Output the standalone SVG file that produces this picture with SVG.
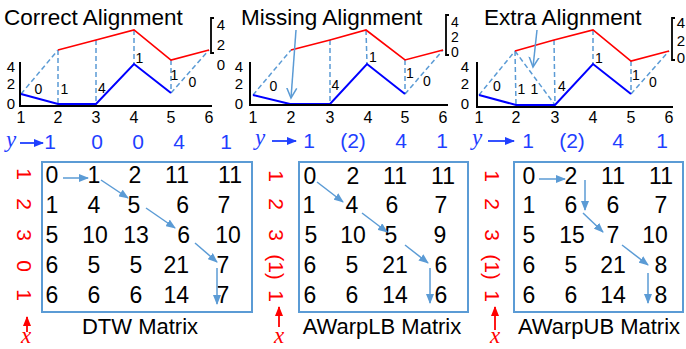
<svg xmlns="http://www.w3.org/2000/svg" width="686" height="349" viewBox="0 0 686 349">
<style>
text{font-family:"Liberation Sans",Arial,sans-serif;fill:#000}
.title{font-size:22.5px}
.tick{font-size:16px;text-anchor:middle}
.ax{font-size:15px;text-anchor:middle}
.axs{font-size:14px;text-anchor:middle}
.d{font-size:14px;text-anchor:middle}
.m{font-size:23px;text-anchor:middle}
.me{font-size:23px;text-anchor:end}
.hdr{font-size:21px;fill:#1F3FFF;text-anchor:middle}
.rl{font-size:21px;fill:#FF0000;text-anchor:middle}
.var{font-family:"Liberation Serif","Times New Roman",serif;font-style:italic;font-size:23px;text-anchor:middle}
.cap{font-size:22px;text-anchor:middle}
.blue{stroke:#0000FF;stroke-width:2;fill:none}
.red{stroke:#FF0000;stroke-width:1.6;fill:none}
.dash{stroke:#5B9BD5;stroke-width:1.5;stroke-dasharray:5 3;fill:none}
.axis{stroke:#000;stroke-width:2;fill:none}
.box{stroke:#5B9BD5;stroke-width:2;fill:none}
.arr{stroke:#5B9BD5;stroke-width:1.5;fill:none;marker-end:url(#ah)}
.varr{stroke:#5B9BD5;stroke-width:1.5;fill:none;marker-end:url(#vh)}
.yarr{stroke:#1F3FFF;stroke-width:1.8;marker-end:url(#ahb)}
.xarr{stroke:#FF0000;stroke-width:1.8;marker-end:url(#ahr)}
</style>
<defs>
<marker id="ah" markerUnits="userSpaceOnUse" markerWidth="10" markerHeight="8" refX="9" refY="4" orient="auto"><path d="M0,0 L10,4 L0,8 Z" fill="#5B9BD5"/></marker>
<marker id="vh" markerUnits="userSpaceOnUse" markerWidth="12" markerHeight="12" refX="10" refY="6" orient="auto"><path d="M0,1 L10,6 L0,11" fill="none" stroke="#5B9BD5" stroke-width="1.5"/></marker>
<marker id="ahb" markerUnits="userSpaceOnUse" markerWidth="10" markerHeight="8" refX="9" refY="4" orient="auto"><path d="M0,0 L10,4 L0,8 Z" fill="#1F3FFF"/></marker>
<marker id="ahr" markerUnits="userSpaceOnUse" markerWidth="10" markerHeight="8" refX="9" refY="4" orient="auto"><path d="M0,0 L10,4 L0,8 Z" fill="#FF0000"/></marker>
</defs>

<!-- Panel 1 chart -->
<g id="chart-correct">
<text class="title" x="4" y="25">Correct Alignment</text>
<path class="dash" d="M21,94 L58,50 M58,50 L58,104 M96,40 L96,104 M134,30 L134,64 M171,60 L171,93 M171,93 L209,50"/>
<polyline class="blue" points="21,94 58,104 96,104 134,64 171,93"/>
<polyline class="red" points="58,50 96,40 134,30 171,60 209,50"/>
<path class="axis" d="M20,62 L20,106 L212,106"/>
<path d="M214,18 L211,18 L211,53 L214,53" stroke="#000" stroke-width="1.8" fill="none"/>
<text class="ax" x="11" y="72">4</text><text class="ax" x="11" y="89">2</text><text class="ax" x="11" y="109">0</text>
<text class="ax" x="221" y="30">4</text><text class="ax" x="221" y="50">2</text><text class="ax" x="221" y="70">0</text>
<text class="tick" x="21" y="123">1</text><text class="tick" x="58" y="123">2</text><text class="tick" x="96" y="123">3</text><text class="tick" x="134" y="123">4</text><text class="tick" x="171" y="123">5</text><text class="tick" x="209" y="123">6</text>
<text class="d" x="38.5" y="94">0</text><text class="d" x="64.5" y="94">1</text><text class="d" x="102" y="93">4</text><text class="d" x="139.5" y="63">1</text><text class="d" x="174.5" y="80">1</text><text class="d" x="192.5" y="87">0</text>
</g>

<!-- Panel 2 chart -->
<g id="chart-missing">
<text class="title" x="241" y="25">Missing Alignment</text>
<path class="dash" d="M253,95 L291,50 M330,40 L330,104 M366,30 L367,64 M405,60 L405,94 M405,94 L443,50"/>
<polyline class="blue" points="253,95 290,104 330,104 367,64 405,94"/>
<polyline class="red" points="291,50 330,40 366,30 405,60 443,50"/>
<path class="axis" d="M250,62 L250,105 L448,105"/>
<path d="M449,15 L446,15 L446,55 L449,55" stroke="#000" stroke-width="1.8" fill="none"/>
<text class="ax" x="239" y="72">4</text><text class="ax" x="239" y="89">2</text><text class="ax" x="239" y="109">0</text>
<text class="axs" x="455" y="27">4</text><text class="axs" x="455" y="42">2</text><text class="axs" x="455" y="57">0</text>
<text class="tick" x="253" y="123">1</text><text class="tick" x="291" y="123">2</text><text class="tick" x="330" y="123">3</text><text class="tick" x="368" y="123">4</text><text class="tick" x="405" y="123">5</text><text class="tick" x="443" y="123">6</text>
<text class="d" x="273.5" y="91">0</text><text class="d" x="335.5" y="90">4</text><text class="d" x="373" y="62">1</text><text class="d" x="410" y="78">1</text><text class="d" x="427" y="86">0</text>
<line class="varr" x1="296" y1="30" x2="291" y2="98"/>
</g>

<!-- Panel 3 chart -->
<g id="chart-extra">
<text class="title" x="484" y="25">Extra Alignment</text>
<path class="dash" d="M479,95 L515,51 M515,51 L516,105 M515,51 L555,105 M554,40 L555,105 M593,30 L593,64 M631,61 L631,94 M631,94 L669,51"/>
<polyline class="blue" points="479,95 516,105 555,105 593,64 631,94"/>
<polyline class="red" points="515,51 554,40 593,30 631,61 669,51"/>
<path class="axis" d="M477,62 L477,107 L673,107"/>
<path d="M675,18 L672,18 L672,60 L675,60" stroke="#000" stroke-width="1.8" fill="none"/>
<text class="ax" x="465" y="72">4</text><text class="ax" x="465" y="89">2</text><text class="ax" x="465" y="109">0</text>
<text class="ax" x="681" y="28">4</text><text class="ax" x="681" y="46">2</text><text class="ax" x="681" y="63">0</text>
<text class="tick" x="479" y="123">1</text><text class="tick" x="516" y="123">2</text><text class="tick" x="555" y="123">3</text><text class="tick" x="593" y="123">4</text><text class="tick" x="631" y="123">5</text><text class="tick" x="669" y="123">6</text>
<text class="d" x="497" y="91">0</text><text class="d" x="521.5" y="94">1</text><text class="d" x="534.5" y="94">1</text><text class="d" x="562" y="91">4</text><text class="d" x="599" y="63">1</text><text class="d" x="636" y="80">1</text><text class="d" x="653" y="87">0</text>
<line class="varr" x1="537" y1="30" x2="533" y2="67"/>
</g>

<!-- Matrix 1 -->
<g id="matrix-dtw">
<text class="var" x="11" y="147" style="fill:#1F3FFF">y</text>
<line class="yarr" x1="20" y1="143" x2="43" y2="143"/>
<text class="hdr" x="50" y="149">1</text><text class="hdr" x="97" y="149">0</text><text class="hdr" x="138" y="149">0</text><text class="hdr" x="179" y="149">4</text><text class="hdr" x="226" y="149">1</text>
<rect class="box" x="42" y="162" width="210" height="150"/>
<text class="rl" transform="translate(25,174) rotate(90)" dy="0.36em">1</text>
<text class="rl" transform="translate(25,204) rotate(90)" dy="0.36em">2</text>
<text class="rl" transform="translate(25,235) rotate(90)" dy="0.36em">3</text>
<text class="rl" transform="translate(25,266) rotate(90)" dy="0.36em">0</text>
<text class="rl" transform="translate(25,295) rotate(90)" dy="0.36em">1</text>
<line class="xarr" x1="27" y1="332" x2="27" y2="317"/>
<text class="var" x="26" y="343" style="fill:#FF0000">x</text>
<text class="m" x="52" y="183">0</text><text class="m" x="94" y="183">1</text><text class="m" x="135" y="183">2</text><text class="me" x="189" y="183">11</text><text class="m" x="230" y="183">11</text>
<text class="m" x="52" y="213">1</text><text class="m" x="94" y="213">4</text><text class="m" x="134" y="213">5</text><text class="me" x="189" y="213">6</text><text class="m" x="224" y="213">7</text>
<text class="m" x="52" y="243">5</text><text class="m" x="95" y="243">10</text><text class="m" x="136" y="243">13</text><text class="me" x="190" y="243">6</text><text class="m" x="228" y="243">10</text>
<text class="m" x="52" y="273">6</text><text class="m" x="94" y="273">5</text><text class="m" x="136" y="273">5</text><text class="me" x="189" y="273">21</text><text class="m" x="223" y="273">7</text>
<text class="m" x="52" y="303">6</text><text class="m" x="94" y="303">6</text><text class="m" x="136" y="303">6</text><text class="me" x="189" y="303">14</text><text class="m" x="223" y="303">7</text>
<text class="cap" x="140" y="334">DTW Matrix</text>
</g>

<!-- Matrix 2 -->
<g id="matrix-awarplb">
<text class="var" x="260" y="145" style="fill:#1F3FFF">y</text>
<line class="yarr" x1="272" y1="141" x2="296" y2="141"/>
<text class="hdr" x="309" y="148">1</text><text class="hdr" x="353" y="148">(2)</text><text class="hdr" x="401" y="148">4</text><text class="hdr" x="442" y="148">1</text>
<rect class="box" x="299" y="162" width="169" height="150"/>
<text class="rl" transform="translate(277,176) rotate(90)" dy="0.36em">1</text>
<text class="rl" transform="translate(277,204) rotate(90)" dy="0.36em">2</text>
<text class="rl" transform="translate(277,235) rotate(90)" dy="0.36em">3</text>
<text class="rl" transform="translate(277,267) rotate(90)" dy="0.36em">(1)</text>
<text class="rl" transform="translate(277,296) rotate(90)" dy="0.36em">1</text>
<line class="xarr" x1="279" y1="327" x2="279" y2="307"/>
<text class="var" x="279" y="343" style="fill:#FF0000">x</text>
<text class="m" x="310" y="184">0</text><text class="m" x="353" y="184">2</text><text class="m" x="395" y="184">11</text><text class="m" x="443" y="184">11</text>
<text class="m" x="309" y="213">1</text><text class="m" x="352" y="213">4</text><text class="m" x="392" y="213">6</text><text class="m" x="441" y="213">7</text>
<text class="m" x="311" y="243">5</text><text class="m" x="353" y="243">10</text><text class="m" x="391" y="243">5</text><text class="m" x="440" y="243">9</text>
<text class="m" x="310" y="273">6</text><text class="m" x="352" y="273">5</text><text class="m" x="395" y="273">21</text><text class="m" x="441" y="273">6</text>
<text class="m" x="310" y="303">6</text><text class="m" x="352" y="303">6</text><text class="m" x="395" y="303">14</text><text class="m" x="441" y="303">6</text>
<text class="cap" x="382" y="334">AWarpLB Matrix</text>
</g>

<!-- Matrix 3 -->
<g id="matrix-awarpub">
<text class="var" x="477" y="145" style="fill:#1F3FFF">y</text>
<line class="yarr" x1="488" y1="141" x2="514" y2="141"/>
<text class="hdr" x="528" y="148">1</text><text class="hdr" x="572" y="148">(2)</text><text class="hdr" x="618" y="148">4</text><text class="hdr" x="662" y="148">1</text>
<rect class="box" x="514" y="162" width="169" height="150"/>
<text class="rl" transform="translate(493,176) rotate(90)" dy="0.36em">1</text>
<text class="rl" transform="translate(493,204) rotate(90)" dy="0.36em">2</text>
<text class="rl" transform="translate(493,235) rotate(90)" dy="0.36em">3</text>
<text class="rl" transform="translate(493,267) rotate(90)" dy="0.36em">(1)</text>
<text class="rl" transform="translate(493,296) rotate(90)" dy="0.36em">1</text>
<line class="xarr" x1="495" y1="330" x2="495" y2="307"/>
<text class="var" x="495" y="343" style="fill:#FF0000">x</text>
<text class="m" x="529" y="184">0</text><text class="m" x="571" y="184">2</text><text class="m" x="613" y="184">11</text><text class="m" x="661" y="184">11</text>
<text class="m" x="529" y="213">1</text><text class="m" x="571" y="213">6</text><text class="m" x="613" y="213">6</text><text class="m" x="661" y="213">7</text>
<text class="m" x="529" y="243">5</text><text class="m" x="572" y="243">15</text><text class="m" x="613" y="243">7</text><text class="m" x="655" y="243">10</text>
<text class="m" x="529" y="273">6</text><text class="m" x="571" y="273">5</text><text class="m" x="613" y="273">21</text><text class="m" x="661" y="273">8</text>
<text class="m" x="529" y="303">6</text><text class="m" x="571" y="303">6</text><text class="m" x="613" y="303">14</text><text class="m" x="661" y="303">8</text>
<text class="cap" x="599" y="334">AWarpUB Matrix</text>
</g>

<!-- Warping path connectors -->
<g id="connectors">
<line class="arr" x1="63" y1="178" x2="88" y2="178"/>
<line class="arr" x1="101" y1="180" x2="128" y2="198"/>
<line class="arr" x1="146" y1="208" x2="175" y2="228"/>
<line class="arr" x1="195" y1="243" x2="217" y2="262"/>
<line class="arr" x1="217" y1="268" x2="217" y2="304"/>
<line class="arr" x1="317" y1="182" x2="343" y2="202"/>
<line class="arr" x1="362" y1="213" x2="387" y2="232"/>
<line class="arr" x1="405" y1="245" x2="428" y2="263"/>
<line class="arr" x1="430" y1="268" x2="430" y2="303"/>
<line class="arr" x1="539" y1="179" x2="565" y2="179"/>
<line class="arr" x1="585" y1="180" x2="585" y2="210"/>
<line class="arr" x1="583" y1="213" x2="603" y2="232"/>
<line class="arr" x1="622" y1="245" x2="648" y2="265"/>
<line class="arr" x1="648" y1="273" x2="648" y2="303"/>
</g>
</svg>
